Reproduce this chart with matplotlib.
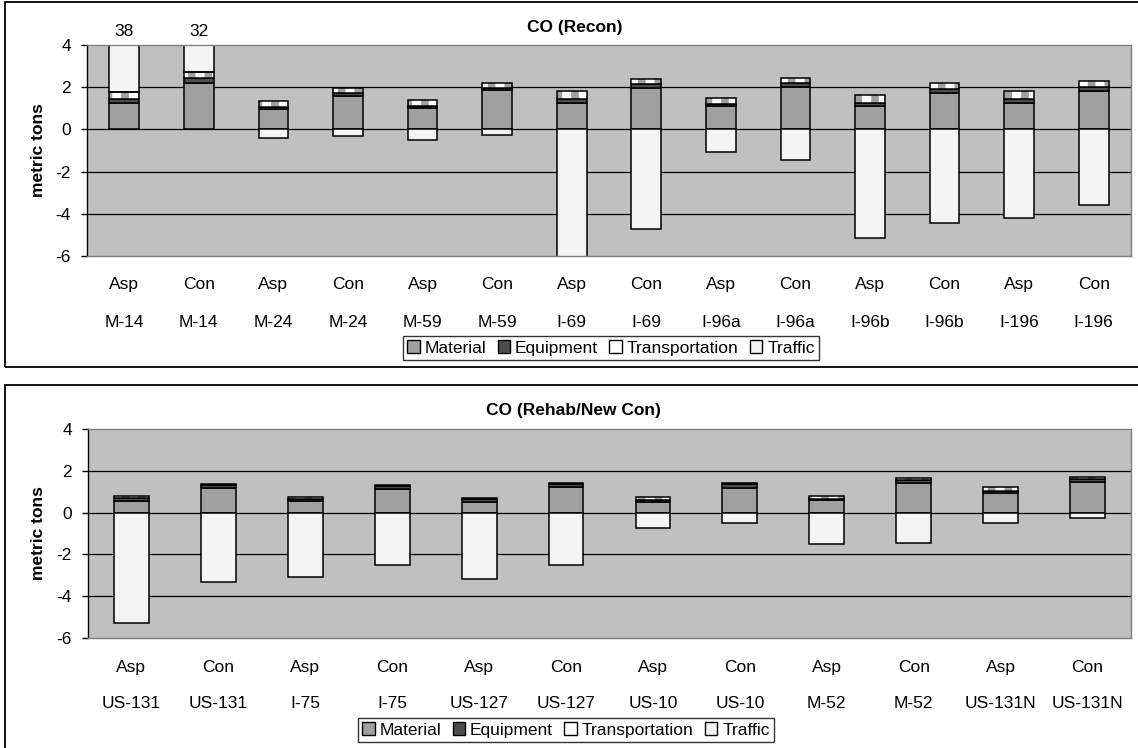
import matplotlib
matplotlib.use('Agg')
import matplotlib.pyplot as plt
from matplotlib.patches import Patch, Rectangle
import numpy as np

plt.rcParams['font.family'] = ['Liberation Sans', 'DejaVu Sans']
plt.rcParams['hatch.linewidth'] = 5.5
plt.rcParams['axes.unicode_minus'] = False

# ---------------- data ----------------
recon_sites = ['M-14', 'M-14', 'M-24', 'M-24', 'M-59', 'M-59', 'I-69', 'I-69',
               'I-96a', 'I-96a', 'I-96b', 'I-96b', 'I-196', 'I-196']
recon_types = ['Asp', 'Con'] * 7
recon_material = [1.24, 2.19, 0.98, 1.59, 1.01, 1.87, 1.27, 1.95, 1.11, 2.00, 1.11, 1.71, 1.24, 1.84]
recon_equipment = [0.20, 0.24, 0.10, 0.12, 0.10, 0.11, 0.16, 0.21, 0.09, 0.19, 0.16, 0.21, 0.19, 0.19]
recon_transport = [0.35, 0.29, 0.27, 0.24, 0.29, 0.24, 0.41, 0.24, 0.30, 0.24, 0.36, 0.27, 0.39, 0.27]
recon_traffic = [36.2, 29.3, -0.43, -0.29, -0.51, -0.27, -6.15, -4.73, -1.08, -1.43, -5.15, -4.43, -4.19, -3.60]

rehab_sites = ['US-131', 'US-131', 'I-75', 'I-75', 'US-127', 'US-127', 'US-10', 'US-10',
               'M-52', 'M-52', 'US-131N', 'US-131N']
rehab_types = ['Asp', 'Con'] * 6
rehab_material = [0.57, 1.16, 0.57, 1.11, 0.52, 1.21, 0.52, 1.18, 0.59, 1.40, 0.95, 1.48]
rehab_equipment = [0.14, 0.16, 0.10, 0.18, 0.12, 0.14, 0.10, 0.17, 0.08, 0.16, 0.07, 0.11]
rehab_transport = [0.10, 0.06, 0.08, 0.04, 0.07, 0.06, 0.14, 0.05, 0.13, 0.08, 0.22, 0.12]
rehab_traffic = [-5.30, -3.31, -3.06, -2.50, -3.16, -2.49, -0.76, -0.51, -1.48, -1.44, -0.51, -0.27]

series_names = ['Material', 'Equipment', 'Transportation', 'Traffic']
y_ticks = [-6, -4, -2, 0, 2, 4]

C_BG = '#C0C0C0'
C_MAT = '#A0A0A0'
C_EQ = '#4D4D4D'
C_TRF = '#F4F4F4'
FS = 12.5

W, H = 1138, 748
fig = plt.figure(figsize=(W / 100, H / 100), dpi=100)


def draw(ax, types, sites, mat, eq, tr, trf, row1_off, row2_off):
    mat = np.array(mat); eq = np.array(eq); tr = np.array(tr); trf = np.array(trf)
    n = len(types)
    x = np.arange(n)
    w = 0.4
    ax.set_facecolor(C_BG)
    ax.set_xlim(-0.5, n - 0.5)
    ax.set_ylim(y_ticks[0], y_ticks[-1])
    ax.set_yticks(y_ticks)
    for v in y_ticks[1:-1]:
        ax.axhline(v, color='black', lw=0.9, zorder=0.5)
    ax.bar(x, mat, w, color=C_MAT, edgecolor='black', lw=1.1, zorder=2)
    ax.bar(x, eq, w, bottom=mat, color=C_EQ, edgecolor='black', lw=1.1, zorder=2)
    tb = mat + eq
    ax.bar(x, tr, w, bottom=tb, color='white', edgecolor=C_MAT, hatch='|', lw=0, zorder=2)
    ax.bar(x, tr, w, bottom=tb, fill=False, edgecolor='black', lw=1.1, zorder=2.1)
    top = tb + tr
    fb = np.where(trf >= 0, top, 0)
    ax.bar(x, trf, w, bottom=fb, color=C_TRF, edgecolor='black', lw=1.1, zorder=2)
    totals = top + np.where(trf >= 0, trf, 0)
    for xi, t in zip(x, totals):
        if t > y_ticks[-1]:
            ax.annotate(f'{t:.0f}', (xi, y_ticks[-1]), xytext=(0, 6.5), textcoords='offset points',
                        ha='center', va='baseline', fontsize=FS, annotation_clip=False)
    ax.set_xticks(x)
    ax.set_xticklabels([])
    ax.tick_params(axis='x', length=0)
    for xi, t, s in zip(x, types, sites):
        ax.annotate(t, (xi, 0), xycoords=('data', 'axes fraction'), xytext=(0, -row1_off),
                    textcoords='offset points', ha='center', va='baseline', fontsize=FS,
                    annotation_clip=False)
        ax.annotate(s, (xi, 0), xycoords=('data', 'axes fraction'), xytext=(0, -row2_off),
                    textcoords='offset points', ha='center', va='baseline', fontsize=FS,
                    annotation_clip=False)
    ax.tick_params(axis='y', direction='out', length=4.5, width=1, pad=7, labelsize=FS)
    for sp in ['top', 'right', 'bottom']:
        ax.spines[sp].set_color('#808080')
        ax.spines[sp].set_linewidth(1.0)
    ax.spines['left'].set_color('black')
    ax.spines['left'].set_linewidth(1.0)
    ax.set_ylabel('metric tons', fontweight='bold', fontsize=FS)


def px(x0, y0, x1, y1):
    return [x0 / W, 1 - y1 / H, (x1 - x0) / W, (y1 - y0) / H]


ax1 = fig.add_axes(px(87, 45, 1131, 256))
draw(ax1, recon_types, recon_sites, recon_material, recon_equipment, recon_transport,
     recon_traffic, 24, 51)
ax1.yaxis.set_label_coords((46 - 87) / 1044, 0.5)

ax2 = fig.add_axes(px(88, 429, 1131, 638))
draw(ax2, rehab_types, rehab_sites, rehab_material, rehab_equipment, rehab_transport,
     rehab_traffic, 24.5, 50.4)
ax2.yaxis.set_label_coords((46 - 88) / 1043, 0.5)

fig.text(575 / W, 1 - 32 / H, 'CO (Recon)', ha='center', va='baseline', fontsize=FS,
         fontweight='bold')
fig.text(573 / W, 1 - 415 / H, 'CO (Rehab/New Con)', ha='center', va='baseline', fontsize=FS,
         fontweight='bold')

handles = [Patch(facecolor=C_MAT, edgecolor='black'),
           Patch(facecolor=C_EQ, edgecolor='black'),
           Patch(facecolor='white', edgecolor='black'),
           Patch(facecolor=C_TRF, edgecolor='black')]
for cx, cy in [(611, 348), (566, 730)]:
    leg = fig.legend(handles, series_names, loc='center', bbox_to_anchor=(cx / W, 1 - cy / H),
                     ncol=4, frameon=True, fancybox=False, edgecolor='black', fontsize=FS,
                     handlelength=0.7, handleheight=0.7, handletextpad=0.3, columnspacing=0.65,
                     borderpad=0.25, borderaxespad=0)
    leg.get_frame().set_linewidth(1.0)

fig.add_artist(Rectangle((5 / W, 1 - 367 / H), 1.1, (367 - 2) / H, transform=fig.transFigure,
                         fill=False, lw=1.3, ec='black'))
fig.add_artist(Rectangle((5 / W, 1 - 752 / H), 1.1, (752 - 385) / H, transform=fig.transFigure,
                         fill=False, lw=1.3, ec='black'))

fig.savefig('out.png', dpi=100)
